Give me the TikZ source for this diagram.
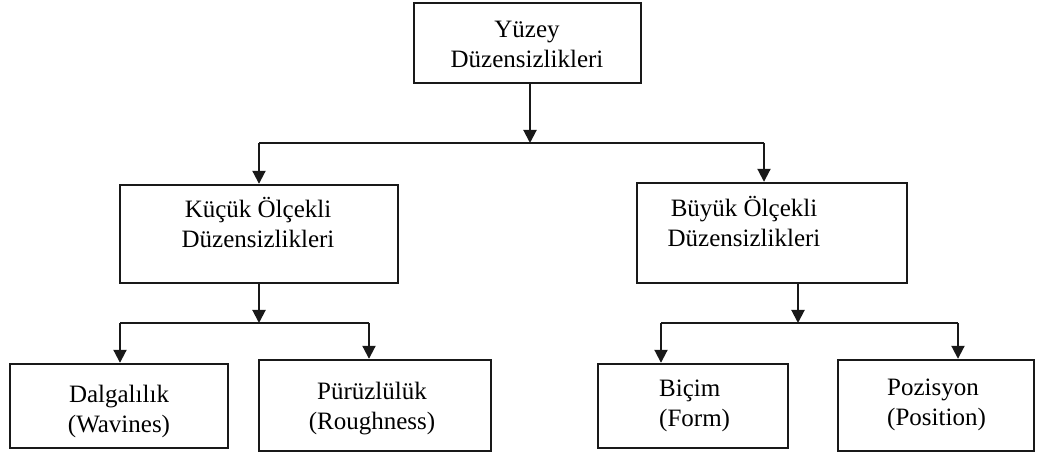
\documentclass[tikz,border=0pt]{standalone}
\usepackage{fontspec}
\setmainfont{Liberation Serif}
\usetikzlibrary{arrows.meta}
\begin{document}
\begin{tikzpicture}[x=1pt,y=-1pt,
  box/.style={draw=black!90,line width=2.4pt,inner sep=0pt,minimum width=#1},
  lbl/.style={font=\fontsize{25}{30}\selectfont,inner sep=0pt},
  conn/.style={draw=black!90,line width=2pt},
  arr/.style={conn,-{Triangle[width=13pt,length=13pt]}}]
\path[use as bounding box] (0,0) rectangle (1037,454);
% boxes
\node[box=227pt,minimum height=80pt] (top) at (527.5,43) {};
\node[box=278pt,minimum height=98pt] (kucuk) at (259,234) {};
\node[box=270pt,minimum height=100pt] (buyuk) at (772,233) {};
\node[box=218pt,minimum height=84pt] (dalga) at (119,406) {};
\node[box=232pt,minimum height=91pt] (puruz) at (375,405.5) {};
\node[box=190pt,minimum height=84pt] (bicim) at (693,406) {};
\node[box=196pt,minimum height=91pt] (pozis) at (936,405.5) {};
% texts (anchor base = baseline of last line)
\node[lbl,align=center,anchor=base] (ttop) at (527,68) {Yüzey\\Düzensizlikleri};
\node[lbl,align=center,anchor=base] (tkucuk) at (258,248) {Küçük Ölçekli\\Düzensizlikleri};
\node[lbl,align=center,anchor=base] (tbuyuk) at (744,247) {Büyük Ölçekli\\Düzensizlikleri};
\node[lbl,align=center,anchor=base] (tdalga) at (119,432) {Dalgalılık\\(Wavines)};
\node[lbl,align=center,anchor=base] (tpuruz) at (372,430) {Pürüzlülük\\(Roughness)};
\node[lbl,align=left,anchor=base west] (tbicim) at (659,427) {Biçim\\(Form)};
\node[lbl,align=left,anchor=base west] (tpozis) at (887,425) {Pozisyon\\(Position)};
% junction coordinates
\coordinate (j0) at (530,143);
\coordinate (h1) at (259,143);
\coordinate (h2) at (764,143);
\coordinate (j1) at (259,323);
\coordinate (k1) at (120,323);
\coordinate (k2) at (369,323);
\coordinate (j2) at (798,323);
\coordinate (b1) at (661,323);
\coordinate (b2) at (958,323);
% connectors
\draw[arr] (top.south -| j0) -- (j0);
\draw[conn] (h1) -- (h2);
\draw[arr] (h1) -- (h1 |- kucuk.north);
\draw[arr] (h2) -- (h2 |- buyuk.north);
\draw[arr] (kucuk.south -| j1) -- (j1);
\draw[conn] (k1) -- (k2);
\draw[arr] (k1) -- (k1 |- dalga.north);
\draw[arr] (k2) -- (k2 |- puruz.north);
\draw[arr] (buyuk.south -| j2) -- (j2);
\draw[conn] (b1) -- (b2);
\draw[arr] (b1) -- (b1 |- bicim.north);
\draw[arr] (b2) -- (b2 |- pozis.north);
\end{tikzpicture}
\end{document}
